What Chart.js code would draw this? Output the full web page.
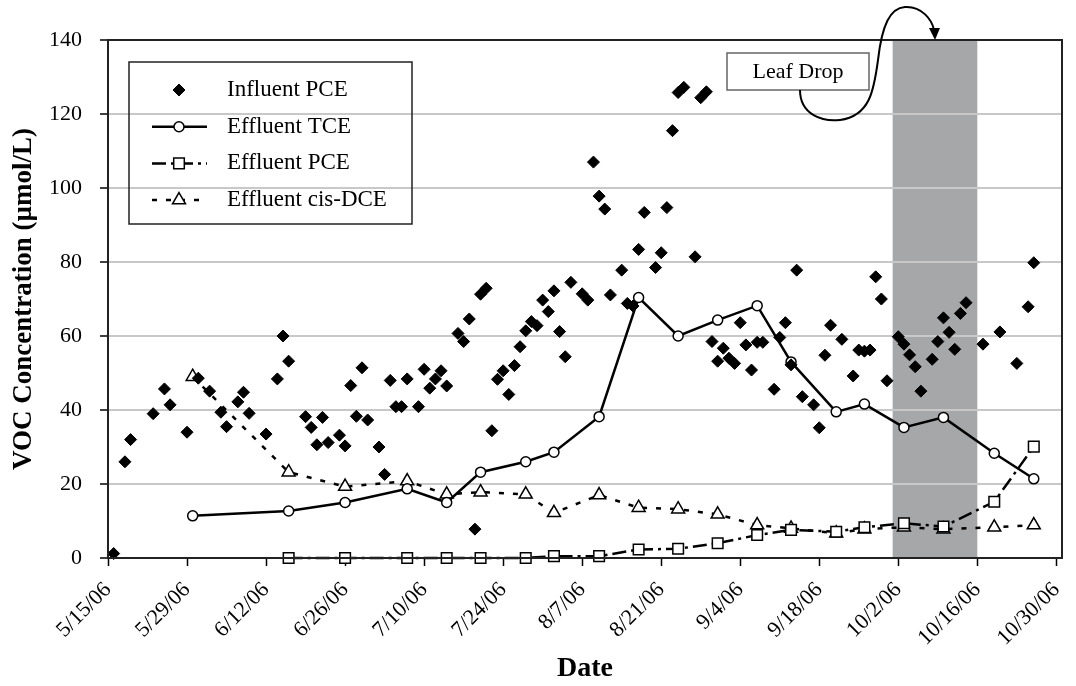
<!DOCTYPE html>
<html>
<head>
<meta charset="utf-8">
<title>VOC Concentration</title>
<script src="https://cdn.jsdelivr.net/npm/chart.js@4.4.0/dist/chart.umd.min.js"></script>
<style>
  html, body { margin: 0; padding: 0; background: #fff; }
  #myChart { display: block; }
</style>
</head>
<body>
<canvas id="myChart" width="1076" height="686"></canvas>
<script>
//DATA (dates are month/day in 2006)
const tickLabels = ["5/15/06", "5/29/06", "6/12/06", "6/26/06", "7/10/06", "7/24/06", "8/7/06",
  "8/21/06", "9/4/06", "9/18/06", "10/2/06", "10/16/06", "10/30/06"];

const influentDates = [
  "5/16", "5/18", "5/19", "5/23", "5/25", "5/26", "5/29", "5/31", "6/2", "6/4",
  "6/5", "6/7", "6/8", "6/9", "6/12", "6/14", "6/15", "6/16", "6/19", "6/20",
  "6/21", "6/22", "6/23", "6/25", "6/26", "6/27", "6/28", "6/29", "6/30", "7/2",
  "7/3", "7/4", "7/5", "7/6", "7/7", "7/9", "7/10", "7/11", "7/12", "7/13",
  "7/14", "7/16", "7/17", "7/18", "7/19", "7/20", "7/21", "7/22", "7/23", "7/24",
  "7/25", "7/26", "7/27", "7/28", "7/29", "7/30", "7/31", "8/1", "8/2", "8/3",
  "8/4", "8/5", "8/7", "8/8", "8/9", "8/10", "8/11", "8/12", "8/14", "8/15",
  "8/16", "8/17", "8/18", "8/20", "8/21", "8/22", "8/23", "8/24", "8/25", "8/27",
  "8/28", "8/29", "8/30", "8/31", "9/1", "9/2", "9/3", "9/4", "9/5", "9/6",
  "9/7", "9/8", "9/10", "9/11", "9/12", "9/13", "9/14", "9/15", "9/17", "9/18",
  "9/19", "9/20", "9/22", "9/24", "9/25", "9/26", "9/27", "9/28", "9/29", "9/30",
  "10/2", "10/3", "10/4", "10/5", "10/6", "10/8", "10/9", "10/10", "10/11", "10/12",
  "10/13", "10/14", "10/17", "10/20", "10/23", "10/25", "10/26"];
const influentPCE = [
  1.2, 26, 32, 39, 45.7, 41.4, 34, 48.6, 45.1, 39.4,
  35.5, 42.2, 44.8, 39.1, 33.5, 48.4, 60, 53.2, 38.2, 35.3,
  30.6, 38, 31.2, 33.2, 30.3, 46.6, 38.3, 51.4, 37.3, 30,
  22.6, 48, 40.9, 40.9, 48.4, 40.9, 51, 45.9, 48.4, 50.6,
  46.5, 60.7, 58.5, 64.6, 7.8, 71.3, 72.9, 34.4, 48.3, 50.6,
  44.2, 52, 57.1, 61.4, 63.9, 62.8, 69.7, 66.6, 72.2, 61.2,
  54.4, 74.5, 71.4, 69.7, 107, 97.8, 94.3, 71.1, 77.8, 68.8,
  68.1, 83.4, 93.4, 78.5, 82.5, 94.7, 115.5, 125.8, 127.2, 81.4,
  124.4, 126, 58.5, 53.2, 56.7, 54, 52.6, 63.6, 57.6, 50.8,
  58.3, 58.3, 45.6, 59.6, 63.6, 52.2, 77.8, 43.6, 41.4, 35.2,
  54.8, 62.9, 59.1, 49.2, 56.2, 55.9, 56.2, 76, 70, 47.9,
  59.8, 57.8, 54.9, 51.7, 45.1, 53.7, 58.5, 64.9, 61, 56.4,
  66.1, 69, 57.8, 61.1, 52.6, 67.9, 79.8];

const effluentDates = ["5/30", "6/16", "6/26", "7/7", "7/14", "7/20", "7/28", "8/2", "8/10", "8/17",
  "8/24", "8/31", "9/7", "9/13", "9/21", "9/26", "10/3", "10/10", "10/19", "10/26"];
const effluentTCE = [11.4, 12.7, 15, 18.7, 15, 23.2, 26, 28.6, 38.2, 70.4,
  60, 64.3, 68.2, 53, 39.5, 41.6, 35.3, 38, 28.3, 21.4];
const effluentPCE = [null, 0, 0, 0, 0, 0, 0, 0.5, 0.5, 2.3,
  2.5, 4, 6.2, 7.6, 7.1, 8.3, 9.4, 8.5, 15.2, 30.1];
const effluentDCE = [49, 23.2, 19.3, 20.8, 17.2, 17.8, 17.2, 12.2, 17, 13.6,
  13.2, 11.8, 8.9, 8, 6.7, 7.8, 8.3, 7.8, 8.3, 8.9];

const leafDrop = ["10/1", "10/16"];

const FONT = "'Liberation Serif', 'Times New Roman', serif";

function dayOf(md) {
  //DAYS SINCE 5/15/06
  const [m, d] = md.split("/").map(Number);
  return (Date.UTC(2006, m - 1, d) - Date.UTC(2006, 4, 15)) / 86400000;
}

function toPoints(dates, values) {
  const pts = [];
  for (let i = 0; i < dates.length; i++) {
    if (values[i] !== null) pts.push({ x: dayOf(dates[i]), y: values[i] });
  }
  return pts;
}

const tickDays = tickLabels.map((t) => dayOf(t.slice(0, t.lastIndexOf("/"))));

function drawMarker(ctx, style, x, y, r, fill, stroke, lw) {
  ctx.beginPath();
  if (style === "rectRot") {
    ctx.moveTo(x, y - r); ctx.lineTo(x + r, y); ctx.lineTo(x, y + r); ctx.lineTo(x - r, y);
    ctx.closePath();
  } else if (style === "circle") {
    ctx.arc(x, y, r, 0, Math.PI * 2);
  } else if (style === "rect") {
    const s = r * Math.SQRT1_2;
    ctx.rect(x - s, y - s, 2 * s, 2 * s);
  } else if (style === "triangle") {
    const h = r * 1.5, w = r * Math.sqrt(3) / 2;
    ctx.moveTo(x, y - r); ctx.lineTo(x + w, y + h - r); ctx.lineTo(x - w, y + h - r);
    ctx.closePath();
  }
  ctx.setLineDash([]);
  ctx.fillStyle = fill;
  ctx.fill();
  ctx.lineWidth = lw;
  ctx.strokeStyle = stroke;
  ctx.stroke();
}

const backdrop = {
  id: "backdrop",
  beforeDraw(chart) {
    //WHITE BACKGROUND AND THE GREY LEAF DROP BAND
    const { ctx, chartArea, scales } = chart;
    ctx.save();
    ctx.fillStyle = "#fff";
    ctx.fillRect(0, 0, chart.width, chart.height);
    const x1 = scales.x.getPixelForValue(dayOf(leafDrop[0]));
    const x2 = scales.x.getPixelForValue(dayOf(leafDrop[1]));
    ctx.fillStyle = "#a6a7a9";
    ctx.fillRect(x1, chartArea.top, x2 - x1, chartArea.bottom - chartArea.top);
    ctx.restore();
  },
};

const overlay = {
  id: "overlay",
  afterDraw(chart) {
    const { ctx, chartArea: a } = chart;
    ctx.save();
    //PLOT FRAME
    ctx.strokeStyle = "#222";
    ctx.lineWidth = 2;
    ctx.strokeRect(a.left, a.top, a.right - a.left, a.bottom - a.top);

    //LEGEND BOX
    const lx = a.left + 21, ly = a.top + 22;
    ctx.lineWidth = 1.5;
    ctx.strokeStyle = "#222";
    ctx.strokeRect(lx, ly, 283, 162);
    chart.data.datasets.forEach((ds, i) => {
      const y = ly + 28 + i * 36.7;
      const mx = lx + 50;
      if (ds.showLine) {
        ctx.beginPath();
        ctx.setLineDash(ds.borderDash || []);
        ctx.strokeStyle = "#000";
        ctx.lineWidth = ds.borderWidth;
        ctx.moveTo(mx - 27, y);
        ctx.lineTo(mx + 28, y);
        ctx.stroke();
      }
      drawMarker(ctx, ds.pointStyle, mx, y, ds.pointRadius, ds.pointBackgroundColor, "#000", ds.pointBorderWidth);
      ctx.fillStyle = "#000";
      ctx.font = "23px " + FONT;
      ctx.textBaseline = "middle";
      ctx.textAlign = "left";
      ctx.fillText(ds.label, lx + 98, y);
    });

    //LEAF DROP LABEL AND ARROW
    const bx = a.left + 619, by = a.top + 13;
    ctx.setLineDash([]);
    ctx.fillStyle = "#fff";
    ctx.fillRect(bx, by, 142, 37);
    ctx.strokeStyle = "#666";
    ctx.lineWidth = 1.5;
    ctx.strokeRect(bx, by, 142, 37);
    ctx.fillStyle = "#000";
    ctx.font = "22px " + FONT;
    ctx.textAlign = "center";
    ctx.textBaseline = "middle";
    ctx.fillText("Leaf Drop", bx + 71, by + 19);

    const ox = a.left, oy = a.top;
    ctx.beginPath();
    ctx.strokeStyle = "#000";
    ctx.lineWidth = 2;
    ctx.moveTo(ox + 692, oy + 50);
    ctx.bezierCurveTo(ox + 692, oy + 75, ox + 715, oy + 82, ox + 732, oy + 80);
    ctx.bezierCurveTo(ox + 762, oy + 76, ox + 766, oy + 50, ox + 770, oy + 20);
    ctx.bezierCurveTo(ox + 774, oy - 15, ox + 782, oy - 32, ox + 797, oy - 33);
    ctx.bezierCurveTo(ox + 814, oy - 34, ox + 824, oy - 20, ox + 826, oy - 10);
    ctx.stroke();
    ctx.beginPath();
    ctx.fillStyle = "#000";
    ctx.moveTo(ox + 827, oy);
    ctx.lineTo(ox + 821, oy - 12);
    ctx.lineTo(ox + 832, oy - 12);
    ctx.closePath();
    ctx.fill();
    ctx.restore();
  },
};

Chart.defaults.font.family = FONT;
Chart.defaults.color = "#000";

const config = {
  type: "scatter",
  data: {
    datasets: [
      {
        label: "Influent PCE",
        data: toPoints(influentDates, influentPCE),
        showLine: false,
        pointStyle: "rectRot",
        pointRadius: 6,
        pointBackgroundColor: "#000",
        pointBorderColor: "#000",
        pointBorderWidth: 1,
        clip: false,
      },
      {
        label: "Effluent TCE",
        data: toPoints(effluentDates, effluentTCE),
        showLine: true,
        borderColor: "#000",
        borderWidth: 2.5,
        pointStyle: "circle",
        pointRadius: 5,
        pointBackgroundColor: "#fff",
        pointBorderColor: "#000",
        pointBorderWidth: 1.5,
        clip: false,
      },
      {
        label: "Effluent PCE",
        data: toPoints(effluentDates, effluentPCE),
        showLine: true,
        borderColor: "#000",
        borderWidth: 2.5,
        borderDash: [14, 5, 3, 5],
        pointStyle: "rect",
        pointRadius: 7.5,
        pointBackgroundColor: "#fff",
        pointBorderColor: "#000",
        pointBorderWidth: 1.5,
        clip: false,
      },
      {
        label: "Effluent cis-DCE",
        data: toPoints(effluentDates, effluentDCE),
        showLine: true,
        borderColor: "#000",
        borderWidth: 2.5,
        borderDash: [5, 9],
        pointStyle: "triangle",
        pointRadius: 7.5,
        pointBackgroundColor: "#fff",
        pointBorderColor: "#000",
        pointBorderWidth: 1.5,
        clip: false,
      },
    ],
  },
  options: {
    responsive: false,
    animation: false,
    layout: { padding: { top: 40, right: 14, left: 0, bottom: 0 } },
    plugins: { legend: { display: false }, tooltip: { enabled: false } },
    scales: {
      x: {
        type: "linear",
        min: 0,
        max: 169,
        afterBuildTicks: (scale) => {
          scale.ticks = tickDays.map((v) => ({ value: v }));
        },
        afterFit: (scale) => {
          scale.height = 128;
          scale.paddingLeft = 0;
          scale.paddingRight = 0;
        },
        ticks: {
          autoSkip: false,
          minRotation: 45,
          maxRotation: 45,
          padding: 11,
          color: "#000",
          font: { size: 22 },
          callback: (v, i) => tickLabels[i],
        },
        grid: { drawOnChartArea: false, drawTicks: true, tickLength: 8, tickColor: "#000", tickWidth: 1.5 },
        border: { color: "#222", width: 2 },
        title: {
          display: true,
          text: "Date",
          color: "#000",
          font: { size: 28, weight: "bold" },
          padding: { top: 0, bottom: 0 },
        },
      },
      y: {
        min: 0,
        max: 140,
        afterFit: (scale) => {
          scale.width = 108;
        },
        ticks: { stepSize: 20, padding: 18, color: "#000", font: { size: 22 } },
        grid: { color: "#c8c8c8", lineWidth: 2, tickColor: "#000", tickLength: 8, tickWidth: 1.5 },
        border: { color: "#222", width: 2 },
        title: {
          display: true,
          text: "VOC Concentration (µmol/L)",
          color: "#000",
          font: { size: 27, weight: "bold" },
          padding: { top: 8, bottom: 0 },
        },
      },
    },
  },
  plugins: [backdrop, overlay],
};

const myChart = document.getElementById("myChart");
const vocChart = new Chart(myChart, config);
</script>
</body>
</html>
